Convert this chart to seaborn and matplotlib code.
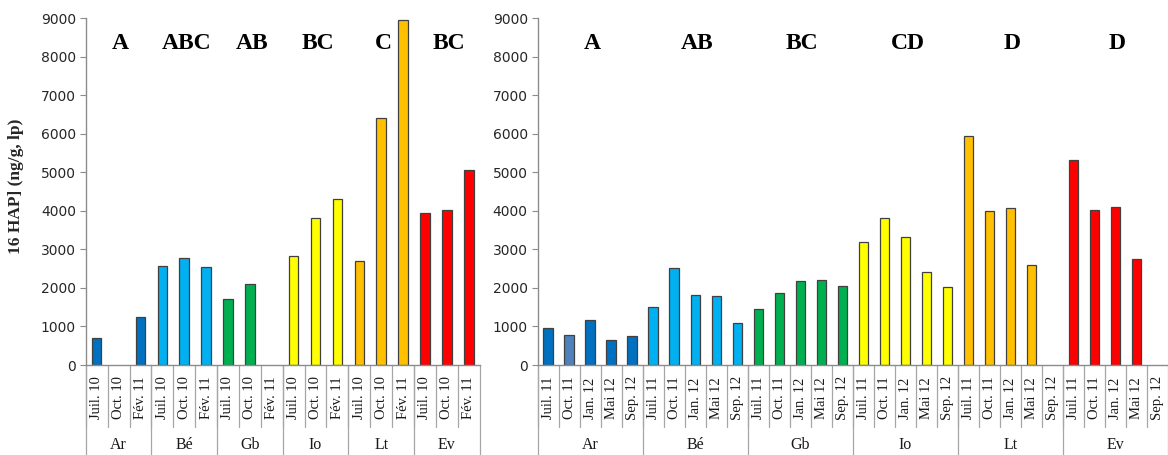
import numpy as np
import pandas as pd
import matplotlib
matplotlib.use("Agg")
import matplotlib.pyplot as plt
import seaborn as sns

sns.set_style("white")

# sites, colours and letters
sites = ["Ar", "Bé", "Gb", "Io", "Lt", "Ev"]
site_colors = ["#0070C0", "#00B0F0", "#00B050", "#FFFF00", "#FFC000", "#FF0000"]

# campaign 1 (2010-2011)
dates1 = ["Juil. 10", "Oct. 10", "Fév. 11"]
hap1 = {
    "Ar": [690, np.nan, 1250],
    "Bé": [2570, 2780, 2540],
    "Gb": [1720, 2090, np.nan],
    "Io": [2840, 3810, 4310],
    "Lt": [2700, 6410, 8940],
    "Ev": [3940, 4020, 5050],
}
letters1 = ["A", "ABC", "AB", "BC", "C", "BC"]

# campaign 2 (2011-2012)
dates2 = ["Juil. 11", "Oct. 11", "Jan. 12", "Mai 12", "Sep. 12"]
hap2 = {
    "Ar": [950, 790, 1160, 660, 760],
    "Bé": [1500, 2510, 1820, 1790, 1080],
    "Gb": [1450, 1870, 2190, 2210, 2060],
    "Io": [3200, 3810, 3310, 2400, 2030],
    "Lt": [5950, 4000, 4080, 2590, np.nan],
    "Ev": [5330, 4030, 4110, 2750, np.nan],
}
letters2 = ["A", "AB", "BC", "CD", "D", "D"]


def make_df(dates, hap):
    rows = []
    for s, c in zip(sites, site_colors):
        for i, d in enumerate(dates):
            col = c
            # the Oct. 11 Ar bar is a paler blue in the original
            if s == "Ar" and d == "Oct. 11":
                col = "#4F81BD"
            rows.append({"key": s + "|" + d, "site": s, "date": d,
                         "val": hap[s][i], "color": col})
    return pd.DataFrame(rows)


def panel(ax, dates, hap, letters):
    df = make_df(dates, hap)
    n = len(dates)
    sns.barplot(data=df, x="key", y="val", hue="key", palette=list(df["color"]),
                legend=False, width=0.44, edgecolor="#404040", linewidth=0.9,
                saturation=1, ax=ax)
    ax.set_xlim(-0.5, len(df) - 0.5)
    ax.set_ylim(0, 9000)
    ax.set_yticks(np.arange(0, 9001, 1000))
    ax.set_xticks([])
    ax.set_xlabel("")
    ax.set_ylabel("")
    for sp in ["top", "right"]:
        ax.spines[sp].set_visible(False)
    for sp in ["left", "bottom"]:
        ax.spines[sp].set_color("#8C8C8C")
        ax.spines[sp].set_linewidth(1)
    ax.tick_params(axis="y", left=True, length=4, color="#8C8C8C",
                   labelsize=10, labelcolor="#262626", pad=3)

    trans = ax.get_xaxis_transform()
    # date labels and separators
    for i, d in enumerate(df["date"]):
        ax.text(i, -0.095, d, rotation=90, ha="center", va="center",
                fontsize=10.5, family="Liberation Serif", color="#1a1a1a",
                transform=trans, clip_on=False)
        ax.plot([i - 0.5, i - 0.5], [0, -0.18], transform=trans, color="#A6A6A6",
                lw=0.9, clip_on=False)
    # site labels, group separators and letters
    for g, s in enumerate(sites):
        start = g * n - 0.5
        ax.plot([start, start], [0, -0.27], transform=trans, color="#A6A6A6",
                lw=0.9, clip_on=False)
        centre = g * n + (n - 1) / 2
        ax.text(centre, -0.23, s, ha="center", va="center", fontsize=11.5,
                family="Liberation Serif", color="#1a1a1a", transform=trans,
                clip_on=False)
        ax.text(centre + 0.1, 8350, letters[g], ha="center", va="center",
                fontsize=17, fontweight="bold", family="Liberation Serif",
                color="black")
    ax.plot([len(df) - 0.5] * 2, [0, -0.27], transform=trans, color="#A6A6A6",
            lw=0.9, clip_on=False)


fig = plt.figure(figsize=(11.68, 4.55), dpi=100)
ax1 = fig.add_axes([0.0734, 0.1978, 0.3373, 0.7626])
ax2 = fig.add_axes([0.4602, 0.1978, 0.5398, 0.7626])

panel(ax1, dates1, hap1, letters1)
panel(ax2, dates2, hap2, letters2)

fig.text(0.014, 0.59, "16 HAP] (ng/g, lp)", rotation=90, ha="center", va="center",
         fontsize=12.5, fontweight="bold", family="Liberation Serif")

fig.savefig("out.png", dpi=100)
